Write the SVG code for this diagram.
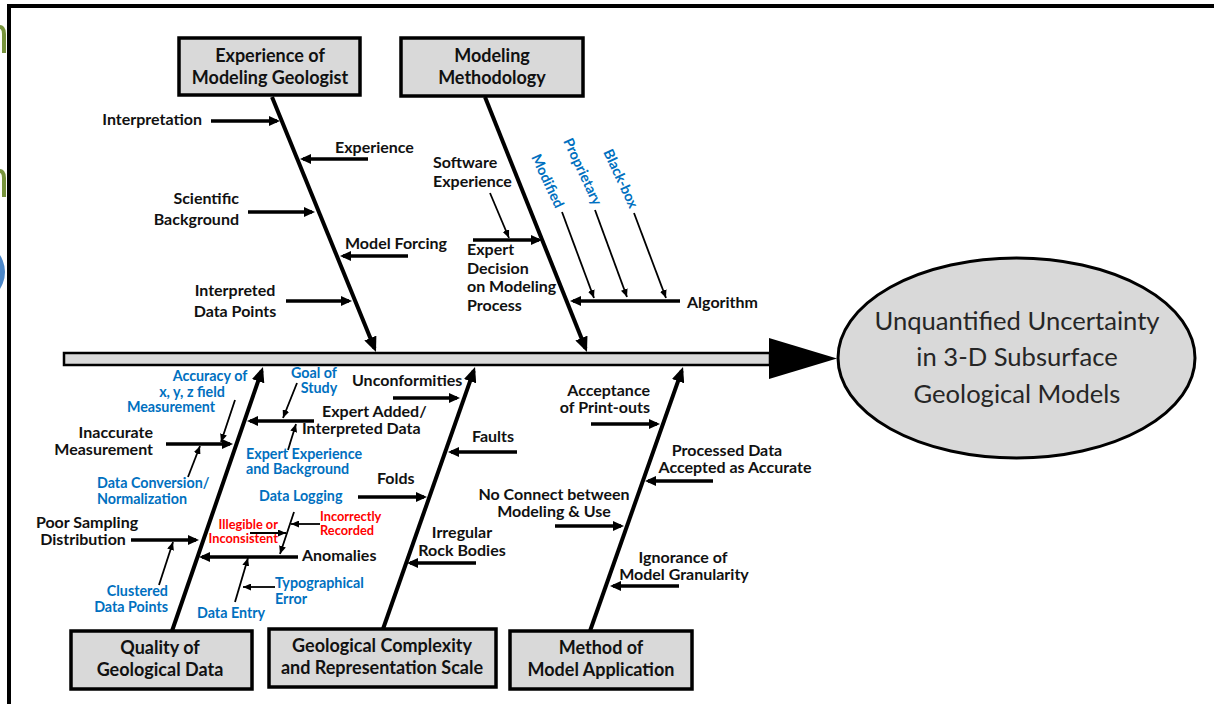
<svg xmlns="http://www.w3.org/2000/svg" width="1214" height="704" viewBox="0 0 1214 704">
<defs>
<style>
text{font-family:Lato,"Liberation Sans",sans-serif;font-weight:bold}
.cat{font-size:18px;fill:#111;text-anchor:middle}
.lb{font-size:16px;fill:#111}
.bl{font-size:14.3px;fill:#0070c0}
.rd{font-size:12.8px;fill:#ff0000}
.big{font-size:25.6px;font-weight:normal;fill:#262626;text-anchor:middle}
.box{fill:#d9d9d9;stroke:#000;stroke-width:3.5}
.bone{stroke:#000;stroke-width:4;fill:none;marker-end:url(#mb)}
.ar{stroke:#000;stroke-width:3.5;fill:none;marker-end:url(#mm)}
.th{stroke:#000;stroke-width:1.8;fill:none;marker-end:url(#ms)}
.e{text-anchor:end}
.m{text-anchor:middle}
</style>
<marker id="mb" markerUnits="userSpaceOnUse" markerWidth="15" markerHeight="13" refX="11" refY="6.5" orient="auto"><path d="M0,0 L15,6.5 L0,13 z" fill="#000"/></marker>
<marker id="mm" markerUnits="userSpaceOnUse" markerWidth="11" markerHeight="10" refX="8" refY="5" orient="auto"><path d="M0,0 L11,5 L0,10 z" fill="#000"/></marker>
<marker id="ms" markerUnits="userSpaceOnUse" markerWidth="8" markerHeight="7" refX="8" refY="3.5" orient="auto"><path d="M0,0 L8,3.5 L0,7 z" fill="#000"/></marker>
</defs>
<rect x="0" y="0" width="1214" height="704" fill="#fff"/>
<g id="background-fragments">
<path d="M-2,27 Q4,26 4,34 L4,53" fill="none" stroke="#77933c" stroke-width="4"/>
<path d="M-2,171 Q4,170 4,178 L4,197" fill="none" stroke="#77933c" stroke-width="4"/>
<circle cx="-26" cy="272" r="31" fill="#4a86c8"/>
</g>
<g id="frame" fill="none" stroke="#000" stroke-width="4">
<path d="M9,704 L9,6 L1214,6"/>
</g>

<g id="spine">
<rect x="64" y="353" width="706" height="12" fill="#d9d9d9" stroke="#000" stroke-width="2.5"/>
<path d="M769,338 L837,358.5 L769,379 z" fill="#000"/>
</g>

<g id="connectors">
<line class="bone" x1="272" y1="97" x2="374.5" y2="348.3"/>
<line class="bone" x1="485" y1="97" x2="585.5" y2="348.3"/>
<line class="bone" x1="172" y1="631" x2="261.7" y2="370.8"/>
<line class="bone" x1="383" y1="629" x2="473.7" y2="370.8"/>
<line class="bone" x1="590" y1="631" x2="681.7" y2="370.8"/>

<line class="ar" x1="211" y1="121" x2="277" y2="121"/>
<line class="ar" x1="368" y1="159" x2="303" y2="159"/>
<line class="ar" x1="248" y1="212" x2="312" y2="212"/>
<line class="ar" x1="408" y1="256" x2="343" y2="256"/>
<line class="ar" x1="286" y1="301" x2="349" y2="301"/>
<line class="ar" x1="473" y1="240" x2="539" y2="240"/>
<line class="ar" x1="680" y1="301" x2="573" y2="301"/>
<line class="ar" x1="166" y1="444" x2="230" y2="444"/>
<line class="ar" x1="131" y1="540" x2="196" y2="540"/>
<line class="ar" x1="314" y1="421" x2="250" y2="421"/>
<line class="ar" x1="298" y1="557" x2="202" y2="557"/>
<line class="ar" x1="393" y1="398" x2="457" y2="398"/>
<line class="ar" x1="517" y1="452" x2="451" y2="452"/>
<line class="ar" x1="358" y1="497" x2="424" y2="497"/>
<line class="ar" x1="476" y1="563" x2="410" y2="563"/>
<line class="ar" x1="591" y1="424" x2="657" y2="424"/>
<line class="ar" x1="713" y1="481" x2="648" y2="481"/>
<line class="ar" x1="555" y1="526" x2="621" y2="526"/>
<line class="ar" x1="679" y1="586" x2="613" y2="586"/>

<line class="th" x1="490" y1="193" x2="509" y2="238"/>
<line class="th" x1="562" y1="212" x2="594" y2="298"/>
<line class="th" x1="595" y1="210" x2="627" y2="297"/>
<line class="th" x1="634" y1="213" x2="666" y2="298"/>
<line class="th" x1="235" y1="400" x2="221" y2="442"/>
<line class="th" x1="188" y1="477" x2="200" y2="446"/>
<line class="th" x1="159" y1="585" x2="173" y2="542"/>
<line class="th" x1="297" y1="383" x2="283" y2="418"/>
<line class="th" x1="288" y1="450" x2="296" y2="424"/>
<line class="th" x1="294" y1="512" x2="280" y2="554"/>
<line class="th" x1="320" y1="524" x2="291" y2="524"/>
<line class="th" x1="250" y1="533" x2="286" y2="533"/>
<line class="th" x1="275" y1="587" x2="243" y2="587"/>
<line class="th" x1="235" y1="602" x2="248" y2="558"/>
</g>

<g id="cat-experience"><rect class="box" x="179" y="38" width="181" height="57"/>
<text class="cat" x="270" y="62">Experience of</text><text class="cat" x="270" y="84">Modeling Geologist</text></g>
<g id="cat-methodology"><rect class="box" x="401" y="38" width="182" height="58"/>
<text class="cat" x="492" y="62">Modeling</text><text class="cat" x="492" y="84">Methodology</text></g>
<g id="cat-quality"><rect class="box" x="71" y="631" width="181" height="58"/>
<text class="cat" x="160" y="654">Quality of</text><text class="cat" x="160" y="676">Geological Data</text></g>
<g id="cat-complexity"><rect class="box" x="269" y="629" width="227" height="58"/>
<text class="cat" x="382" y="652">Geological Complexity</text><text class="cat" x="382" y="674">and Representation Scale</text></g>
<g id="cat-application"><rect class="box" x="510" y="631" width="182" height="58"/>
<text class="cat" x="601" y="654">Method of</text><text class="cat" x="601" y="676">Model Application</text></g>

<g id="effect"><ellipse cx="1016.5" cy="358" rx="178.5" ry="100" fill="#d9d9d9" stroke="#000" stroke-width="3"/>
<text class="big" x="1017" y="330">Unquantified Uncertainty</text>
<text class="big" x="1017" y="366">in 3-D Subsurface</text>
<text class="big" x="1017" y="403">Geological Models</text></g>

<g id="lbl-interpretation"><text class="lb e" x="202" y="125">Interpretation</text></g>
<g id="lbl-experience"><text class="lb" x="335" y="153">Experience</text></g>
<g id="lbl-scientific"><text class="lb e" x="239" y="204">Scientific</text><text class="lb e" x="239" y="225">Background</text></g>
<g id="lbl-forcing"><text class="lb" x="345" y="249">Model Forcing</text></g>
<g id="lbl-interpreted"><text class="lb m" x="235" y="296">Interpreted</text><text class="lb m" x="235" y="317">Data Points</text></g>
<g id="lbl-software"><text class="lb" x="433" y="168">Software</text><text class="lb" x="433" y="187">Experience</text></g>
<g id="lbl-expert-decision"><text class="lb" x="467" y="255">Expert</text><text class="lb" x="467" y="274">Decision</text><text class="lb" x="467" y="292">on Modeling</text><text class="lb" x="467" y="311">Process</text></g>
<g id="lbl-algorithm"><text class="lb" x="687" y="308">Algorithm</text></g>
<g id="lbl-modified"><text class="bl" transform="translate(531,157) rotate(65)">Modified</text></g>
<g id="lbl-proprietary"><text class="bl" transform="translate(563,141) rotate(65)">Proprietary</text></g>
<g id="lbl-blackbox"><text class="bl" transform="translate(603,152) rotate(65)">Black-box</text></g>

<g id="lbl-inaccurate"><text class="lb e" x="153" y="438">Inaccurate</text><text class="lb e" x="153" y="455">Measurement</text></g>
<g id="lbl-accuracy"><text class="bl m" x="210" y="381">Accuracy of</text><text class="bl m" x="192" y="397">x, y, z field</text><text class="bl m" x="171" y="412">Measurement</text></g>
<g id="lbl-conversion"><text class="bl" x="97" y="488">Data Conversion/</text><text class="bl" x="97" y="504">Normalization</text></g>
<g id="lbl-poor"><text class="lb m" x="87" y="528">Poor Sampling</text><text class="lb m" x="83" y="545">Distribution</text></g>
<g id="lbl-clustered"><text class="bl e" x="168" y="596">Clustered</text><text class="bl e" x="168" y="612">Data Points</text></g>
<g id="lbl-goal"><text class="bl m" x="314" y="378">Goal of</text><text class="bl m" x="319" y="393">Study</text></g>
<g id="lbl-expert-added"><text class="lb" x="322" y="417">Expert Added/</text><text class="lb" x="302" y="434">Interpreted Data</text></g>
<g id="lbl-expert-exp"><text class="bl" x="246" y="459">Expert Experience</text><text class="bl" x="246" y="474">and Background</text></g>
<g id="lbl-logging"><text class="bl" x="259" y="501">Data Logging</text></g>
<g id="lbl-incorrectly"><text class="rd" x="320" y="521">Incorrectly</text><text class="rd" x="320" y="535">Recorded</text></g>
<g id="lbl-illegible"><text class="rd e" x="278" y="529">Illegible or</text><text class="rd e" x="278" y="543">Inconsistent</text></g>
<g id="lbl-anomalies"><text class="lb" x="302" y="561">Anomalies</text></g>
<g id="lbl-typo"><text class="bl" x="275" y="588">Typographical</text><text class="bl" x="275" y="604">Error</text></g>
<g id="lbl-entry"><text class="bl" x="197" y="618">Data Entry</text></g>

<g id="lbl-unconformities"><text class="lb" x="352" y="386">Unconformities</text></g>
<g id="lbl-faults"><text class="lb" x="472" y="442">Faults</text></g>
<g id="lbl-folds"><text class="lb" x="377" y="484">Folds</text></g>
<g id="lbl-irregular"><text class="lb m" x="462" y="538">Irregular</text><text class="lb m" x="462" y="556">Rock Bodies</text></g>

<g id="lbl-acceptance"><text class="lb e" x="650" y="396">Acceptance</text><text class="lb e" x="650" y="413">of Print-outs</text></g>
<g id="lbl-processed"><text class="lb m" x="727" y="456">Processed Data</text><text class="lb m" x="735" y="473">Accepted as Accurate</text></g>
<g id="lbl-noconnect"><text class="lb m" x="554" y="500">No Connect between</text><text class="lb m" x="554" y="517">Modeling &amp; Use</text></g>
<g id="lbl-ignorance"><text class="lb m" x="683" y="563">Ignorance of</text><text class="lb m" x="684" y="580">Model Granularity</text></g>
</svg>
